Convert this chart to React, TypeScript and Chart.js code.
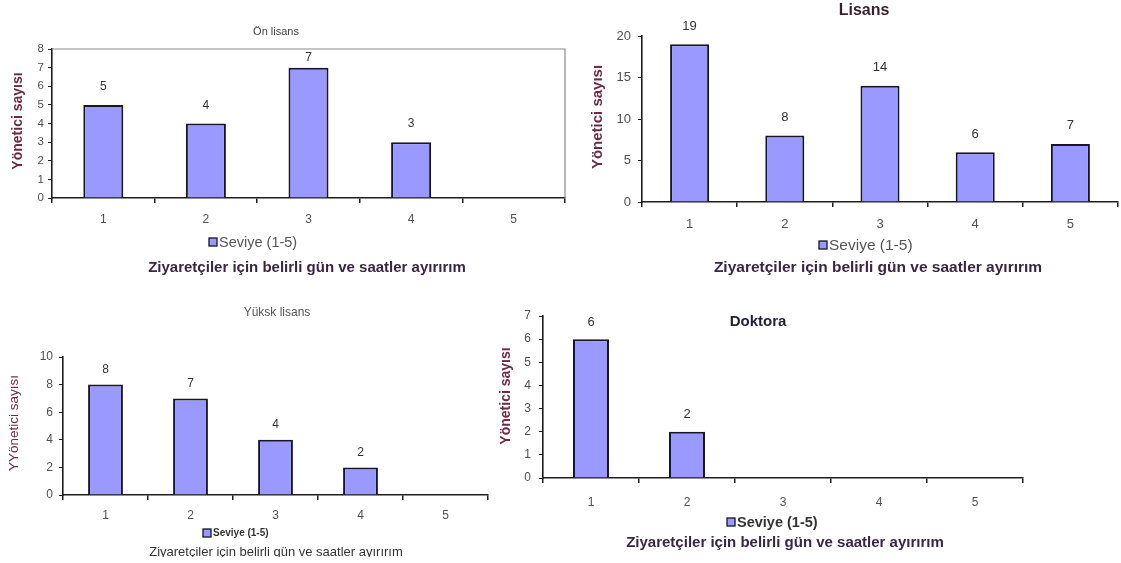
import React, { useEffect, useRef } from "react";
import { Chart, registerables } from "chart.js";

Chart.register(...registerables);

// Page size shared by every panel canvas
const W = 1121;
const H = 563;
const FONT = "'Liberation Sans', Arial, Helvetica, sans-serif";

// Categories and counts per education level
const levels = ["1", "2", "3", "4", "5"];
const onLisansCounts = [5, 4, 7, 3, null];
const lisansCounts = [19, 8, 14, 6, 7];
const yuksekLisansCounts = [8, 7, 4, 2, null];
const doktoraCounts = [6, 2, null, null, null];

const seriesLabel = "Seviye (1-5)";
const xAxisTitle = "Ziyaretçiler için belirli gün ve saatler ayırırım";

const BAR_FILL = "#9999ff";
const BAR_EDGE = "#161628";
const AXIS = "#1e1e1e";
const TICK_TEXT = "#505050";
const Y_TITLE = "#6a2c44";
const X_TITLE = "#3a2642";

// Fixed box sizes for the axes so the plot rectangle is predictable
const Y_W = 40;
const X_H = 40;

type TextSpec = { text: string; x: number; y: number; size: number; bold: boolean; color: string };

type Panel = {
  counts: (number | null)[];
  yMax: number;
  yStep: number;
  area: { l: number; t: number; r: number; b: number };
  barPct: number;
  frame: boolean;
  yTickSize: number;
  xTickSize: number;
  yTickPad: number;
  xTickPad: number;
  valueSize: number;
  valueGap: number;
  title: TextSpec;
  legend: { x: number; y: number; size: number; bold: boolean; color: string };
  xTitle: TextSpec & { clipBottom?: number };
  yTitle: TextSpec;
};

const panels: Panel[] = [
  {
    counts: onLisansCounts,
    yMax: 8,
    yStep: 1,
    area: { l: 52, t: 49, r: 565, b: 198 },
    barPct: 0.39,
    frame: true,
    yTickSize: 11.5,
    xTickSize: 12,
    yTickPad: 4,
    xTickPad: 9,
    valueSize: 12,
    valueGap: 18,
    title: { text: "Ön lisans", x: 276, y: 32, size: 11, bold: false, color: "#444" },
    legend: { x: 209, y: 242, size: 14.5, bold: false, color: "#555" },
    xTitle: { text: xAxisTitle, x: 307, y: 268, size: 15, bold: true, color: X_TITLE },
    yTitle: { text: "Yönetici sayısı", x: 18, y: 121, size: 14, bold: true, color: Y_TITLE },
  },
  {
    counts: lisansCounts,
    yMax: 20,
    yStep: 5,
    area: { l: 642, t: 36, r: 1118, b: 202 },
    barPct: 0.41,
    frame: false,
    yTickSize: 13,
    xTickSize: 13,
    yTickPad: 7,
    xTickPad: 10,
    valueSize: 13,
    valueGap: 18,
    title: { text: "Lisans", x: 864, y: 11, size: 16, bold: true, color: "#3a1f2e" },
    legend: { x: 819, y: 245, size: 15.5, bold: false, color: "#555" },
    xTitle: { text: xAxisTitle, x: 878, y: 268, size: 15.5, bold: true, color: X_TITLE },
    yTitle: { text: "Yönetici sayısı", x: 598, y: 117, size: 15, bold: true, color: Y_TITLE },
  },
  {
    counts: yuksekLisansCounts,
    yMax: 10,
    yStep: 2,
    area: { l: 63, t: 357, r: 488, b: 495 },
    barPct: 0.41,
    frame: false,
    yTickSize: 12,
    xTickSize: 12,
    yTickPad: 6,
    xTickPad: 8,
    valueSize: 12,
    valueGap: 15,
    title: { text: "Yüksk lisans", x: 277, y: 313, size: 12, bold: false, color: "#555" },
    legend: { x: 203, y: 533, size: 10, bold: true, color: "#333" },
    xTitle: { text: xAxisTitle, x: 276, y: 552, size: 13, bold: false, color: "#333", clipBottom: 557 },
    yTitle: { text: "YYönetici sayısı", x: 14, y: 423, size: 13.5, bold: false, color: Y_TITLE },
  },
  {
    counts: doktoraCounts,
    yMax: 7,
    yStep: 1,
    area: { l: 543, t: 316, r: 1023, b: 478 },
    barPct: 0.375,
    frame: false,
    yTickSize: 12,
    xTickSize: 12,
    yTickPad: 8,
    xTickPad: 12,
    valueSize: 13,
    valueGap: 17,
    title: { text: "Doktora", x: 758, y: 322, size: 15, bold: true, color: "#1f1f38" },
    legend: { x: 727, y: 522, size: 14.5, bold: true, color: "#333" },
    xTitle: { text: xAxisTitle, x: 785, y: 543, size: 15, bold: true, color: X_TITLE },
    yTitle: { text: "Yönetici sayısı", x: 506, y: 396, size: 14, bold: true, color: Y_TITLE },
  },
];

function font(size: number, bold: boolean) {
  return `${bold ? "bold " : ""}${size}px ${FONT}`;
}

function drawText(ctx: CanvasRenderingContext2D, t: TextSpec, rotate = false) {
  ctx.save();
  ctx.font = font(t.size, t.bold);
  ctx.fillStyle = t.color;
  ctx.textAlign = "center";
  ctx.textBaseline = "middle";
  if (rotate) {
    ctx.translate(t.x, t.y);
    ctx.rotate(-Math.PI / 2);
    ctx.fillText(t.text, 0, 0);
  } else {
    ctx.fillText(t.text, t.x, t.y);
  }
  ctx.restore();
}

function makePanelPlugin(p: Panel) {
  return {
    id: "panelDecor",
    afterDatasetsDraw(chart: any) {
      const ctx: CanvasRenderingContext2D = chart.ctx;
      const area = chart.chartArea;
      const meta = chart.getDatasetMeta(0);
      ctx.save();
      ctx.font = font(p.valueSize, false);
      ctx.fillStyle = "#333";
      ctx.textAlign = "center";
      ctx.textBaseline = "middle";
      meta.data.forEach((bar: any, i: number) => {
        const v = p.counts[i];
        if (v == null) return;
        let y = bar.y - p.valueGap;
        // keep value labels inside a framed plot
        if (p.frame) y = Math.max(y, area.top + 9);
        ctx.fillText(String(v), bar.x, y);
      });
      ctx.restore();
    },
    afterDraw(chart: any) {
      const ctx: CanvasRenderingContext2D = chart.ctx;
      const area = chart.chartArea;

      if (p.frame) {
        ctx.save();
        ctx.strokeStyle = "#8a8a8a";
        ctx.lineWidth = 1.2;
        ctx.beginPath();
        ctx.moveTo(area.left, area.top);
        ctx.lineTo(area.right, area.top);
        ctx.lineTo(area.right, area.bottom);
        ctx.stroke();
        ctx.restore();
      }

      drawText(ctx, p.title);
      drawText(ctx, p.yTitle, true);

      // x axis title, optionally cut at the bottom edge
      ctx.save();
      if (p.xTitle.clipBottom) {
        ctx.beginPath();
        ctx.rect(0, 0, W, p.xTitle.clipBottom);
        ctx.clip();
      }
      drawText(ctx, p.xTitle);
      ctx.restore();

      // legend: swatch + series name
      const lg = p.legend;
      const box = 8;
      ctx.save();
      ctx.fillStyle = BAR_FILL;
      ctx.fillRect(lg.x, lg.y - box / 2, box, box);
      ctx.strokeStyle = BAR_EDGE;
      ctx.lineWidth = 1.3;
      ctx.strokeRect(lg.x, lg.y - box / 2, box, box);
      ctx.font = font(lg.size, lg.bold);
      ctx.fillStyle = lg.color;
      ctx.textAlign = "left";
      ctx.textBaseline = "middle";
      ctx.fillText(seriesLabel, lg.x + box + 2, lg.y + 0.5);
      ctx.restore();
    },
  };
}

function buildChart(canvas: HTMLCanvasElement, p: Panel) {
  return new Chart(canvas, {
    type: "bar",
    data: {
      labels: levels,
      datasets: [
        {
          label: seriesLabel,
          data: p.counts,
          backgroundColor: BAR_FILL,
          borderColor: BAR_EDGE,
          borderWidth: 2,
          barPercentage: p.barPct,
          categoryPercentage: 1,
        },
      ],
    },
    options: {
      responsive: false,
      animation: false,
      events: [],
      layout: {
        padding: {
          left: p.area.l - Y_W,
          top: p.area.t,
          right: W - p.area.r,
          bottom: H - p.area.b - X_H,
        },
      },
      plugins: {
        legend: { display: false },
        title: { display: false },
        tooltip: { enabled: false },
      },
      scales: {
        x: {
          grid: {
            display: true,
            offset: true,
            drawOnChartArea: false,
            drawTicks: true,
            tickLength: 5,
            color: AXIS,
            lineWidth: 1.5,
          },
          border: { display: true, color: AXIS, width: 1.6 },
          ticks: {
            color: TICK_TEXT,
            font: { family: FONT, size: p.xTickSize },
            padding: p.xTickPad,
            maxRotation: 0,
          },
          afterFit: (s: any) => {
            s.height = X_H;
          },
        },
        y: {
          min: 0,
          max: p.yMax,
          grid: {
            display: true,
            drawOnChartArea: false,
            drawTicks: true,
            tickLength: 4,
            color: AXIS,
            lineWidth: 1,
          },
          border: { display: true, color: AXIS, width: 1.6 },
          ticks: {
            stepSize: p.yStep,
            color: TICK_TEXT,
            font: { family: FONT, size: p.yTickSize },
            padding: p.yTickPad,
          },
          afterFit: (s: any) => {
            s.width = Y_W;
          },
        },
      },
    },
    plugins: [makePanelPlugin(p)],
  } as any);
}

function PanelCanvas({ panel }: { panel: Panel }) {
  const ref = useRef<HTMLCanvasElement | null>(null);
  useEffect(() => {
    if (!ref.current) return;
    const chart = buildChart(ref.current, panel);
    return () => chart.destroy();
  }, [panel]);
  return (
    <canvas
      ref={ref}
      width={W}
      height={H}
      style={{ position: "absolute", left: 0, top: 0, width: W, height: H, pointerEvents: "none" }}
    />
  );
}

export default function App() {
  return (
    <div
      style={{
        position: "absolute",
        left: 0,
        top: 0,
        width: W,
        height: H,
        background: "#ffffff",
        overflow: "hidden",
      }}
    >
      {panels.map((p, i) => (
        <PanelCanvas key={i} panel={p} />
      ))}
    </div>
  );
}
